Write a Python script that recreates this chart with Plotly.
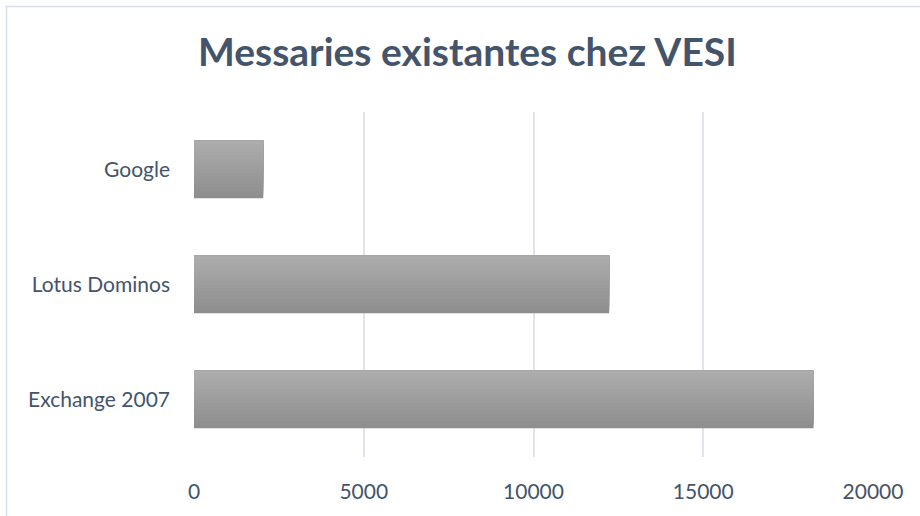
import plotly.graph_objects as go

categories = ["Exchange 2007", "Lotus Dominos", "Google"]
values = [18250, 12230, 2040]
x_ticks = [0, 5000, 10000, 15000, 20000]
title_text = "Messaries existantes chez VESI"

# gradient imitation: stacked overlapping layers, darkest (bottom) first
n_strips = 16
top_rgb = (172, 172, 172)
bot_rgb = (142, 142, 142)
bar_width = 0.5

fig = go.Figure()
for i in range(n_strips):
    t = i / (n_strips - 1)
    r = round(bot_rgb[0] + (top_rgb[0] - bot_rgb[0]) * t)
    g = round(bot_rgb[1] + (top_rgb[1] - bot_rgb[1]) * t)
    b = round(bot_rgb[2] + (top_rgb[2] - bot_rgb[2]) * t)
    w = bar_width / n_strips
    fig.add_trace(go.Bar(
        y=categories, x=values, orientation="h",
        width=bar_width - i * w, offset=-bar_width / 2 + i * w,
        marker=dict(color=f"rgb({r},{g},{b})", line=dict(width=0)),
        showlegend=False, hoverinfo="x+y",
    ))

fig.update_layout(
    width=920, height=516,
    barmode="overlay",
    paper_bgcolor="white", plot_bgcolor="white",
    margin=dict(l=194, r=47, t=112, b=59),
    title=dict(text=title_text, x=0.508, xanchor="center", y=0.898, yanchor="middle",
               font=dict(family="Lato", size=39, color="#44546A", weight="bold")),
    font=dict(family="Lato", color="#44546A"),
    xaxis=dict(range=[0, 20000], tickvals=x_ticks, ticktext=[str(v) for v in x_ticks],
               showgrid=True, gridcolor="#E1E4EA", gridwidth=2, zeroline=False,
               showline=False, ticks="", tickfont=dict(size=21, color="#44546A"),
               ticklabelstandoff=20),
    yaxis=dict(showgrid=False, zeroline=False, showline=False, ticks="",
               tickfont=dict(size=21, color="#44546A"), ticklabelstandoff=23,
               range=[-0.5, 2.5]),
    shapes=[dict(type="rect", xref="paper", yref="paper",
                 x0=(6.5 - 194) / 679, x1=(935 - 194) / 679,
                 y0=-(530 - 457) / 345, y1=(457 - 6.5) / 345,
                 line=dict(color="#D9DEE6", width=1.5), fillcolor="rgba(0,0,0,0)",
                 layer="below")],
)

fig.write_html("out.html", config={"displayModeBar": False},
               post_script="document.body.style.margin='0';")
